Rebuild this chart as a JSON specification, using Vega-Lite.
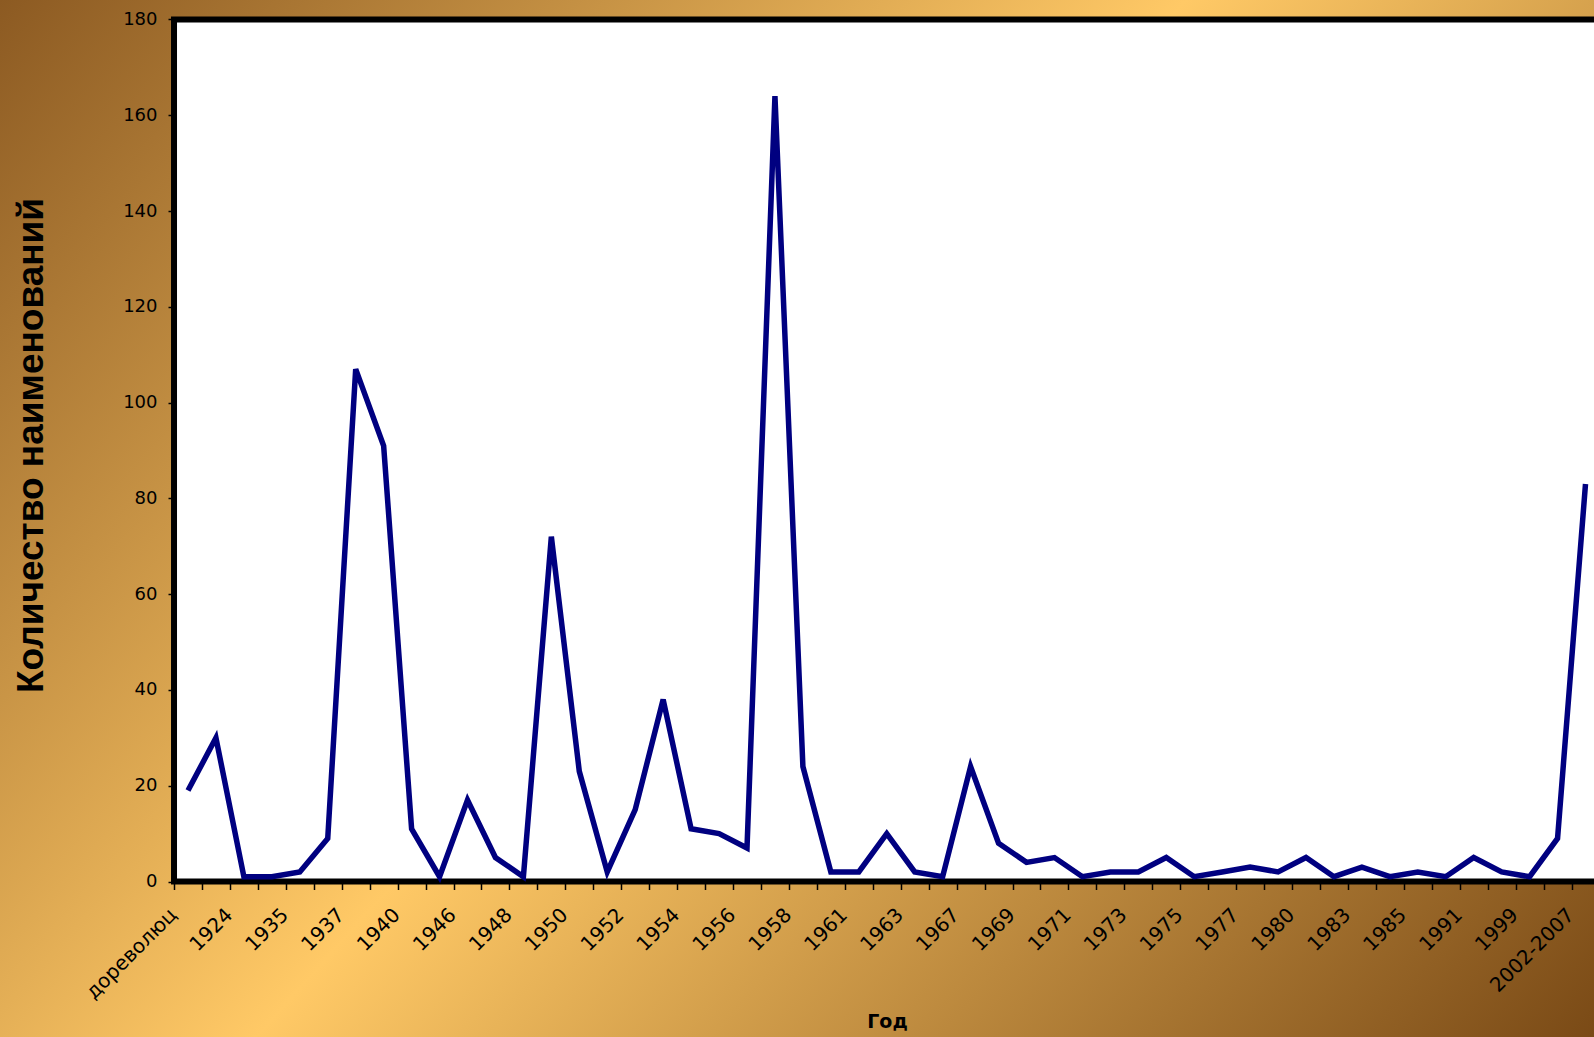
{
  "$schema": "https://vega.github.io/schema/vega-lite/v6.json",
  "width": 1594,
  "height": 1037,
  "autosize": {"type": "none"},
  "padding": 0,
  "background": "#D9A64E",
  "config": {"view": {"stroke": null}},
  "datasets": {
    "one": [{"k": 1}],
    "d": [
      {"i": 0, "year": "дореволюц", "n": 19},
      {"i": 1, "year": "1920", "n": 30},
      {"i": 2, "year": "1924", "n": 1},
      {"i": 3, "year": "1930", "n": 1},
      {"i": 4, "year": "1935", "n": 2},
      {"i": 5, "year": "1936", "n": 9},
      {"i": 6, "year": "1937", "n": 107},
      {"i": 7, "year": "1938", "n": 91},
      {"i": 8, "year": "1940", "n": 11},
      {"i": 9, "year": "1945", "n": 1},
      {"i": 10, "year": "1946", "n": 17},
      {"i": 11, "year": "1947", "n": 5},
      {"i": 12, "year": "1948", "n": 1},
      {"i": 13, "year": "1949", "n": 72},
      {"i": 14, "year": "1950", "n": 23},
      {"i": 15, "year": "1951", "n": 2},
      {"i": 16, "year": "1952", "n": 15},
      {"i": 17, "year": "1953", "n": 38},
      {"i": 18, "year": "1954", "n": 11},
      {"i": 19, "year": "1955", "n": 10},
      {"i": 20, "year": "1956", "n": 7},
      {"i": 21, "year": "1957", "n": 164},
      {"i": 22, "year": "1958", "n": 24},
      {"i": 23, "year": "1959", "n": 2},
      {"i": 24, "year": "1961", "n": 2},
      {"i": 25, "year": "1962", "n": 10},
      {"i": 26, "year": "1963", "n": 2},
      {"i": 27, "year": "1965", "n": 1},
      {"i": 28, "year": "1967", "n": 24},
      {"i": 29, "year": "1968", "n": 8},
      {"i": 30, "year": "1969", "n": 4},
      {"i": 31, "year": "1970", "n": 5},
      {"i": 32, "year": "1971", "n": 1},
      {"i": 33, "year": "1972", "n": 2},
      {"i": 34, "year": "1973", "n": 2},
      {"i": 35, "year": "1974", "n": 5},
      {"i": 36, "year": "1975", "n": 1},
      {"i": 37, "year": "1976", "n": 2},
      {"i": 38, "year": "1977", "n": 3},
      {"i": 39, "year": "1979", "n": 2},
      {"i": 40, "year": "1980", "n": 5},
      {"i": 41, "year": "1982", "n": 1},
      {"i": 42, "year": "1983", "n": 3},
      {"i": 43, "year": "1984", "n": 1},
      {"i": 44, "year": "1985", "n": 2},
      {"i": 45, "year": "1990", "n": 1},
      {"i": 46, "year": "1991", "n": 5},
      {"i": 47, "year": "1995", "n": 2},
      {"i": 48, "year": "1999", "n": 1},
      {"i": 49, "year": "2001", "n": 9},
      {"i": 50, "year": "2002-2007", "n": 83}
    ]
  },
  "resolve": {"axis": {"x": "independent", "y": "independent"}},
  "layer": [
    {
      "data": {"name": "one"},
      "mark": {
        "type": "rect",
        "strokeWidth": 0,
        "fill": {
          "gradient": "linear",
          "x1": 0, "y1": 0, "x2": 1.181, "y2": 0.689,
          "stops": [
            {"offset": 0, "color": "#8C5A22"},
            {"offset": 0.47, "color": "#FFC966"},
            {"offset": 1, "color": "#7A4A16"}
          ]
        }
      },
      "encoding": {}
    },
    {
      "data": {"name": "one"},
      "mark": {"type": "rect", "fill": "white", "stroke": "black", "strokeWidth": 6, "strokeJoin": "miter"},
      "encoding": {
        "x": {"datum": -0.5, "type": "quantitative", "scale": {"domain": [-6.726, 50.304], "nice": false, "zero": false}, "axis": null},
        "x2": {"datum": 52},
        "y": {"datum": 0, "type": "quantitative", "scale": {"domain": [-32.47, 184.07], "nice": false, "zero": false}, "axis": null},
        "y2": {"datum": 180}
      }
    },
    {
      "data": {"name": "d"},
      "mark": {"type": "line", "color": "#000080", "strokeWidth": 5.5, "strokeJoin": "miter"},
      "encoding": {
        "x": {
          "field": "i", "type": "quantitative",
          "scale": {"domain": [-6.726, 50.304], "nice": false, "zero": false},
          "axis": {
            "orient": "bottom",
            "zindex": 2,
            "values": [0, 2, 4, 6, 8, 10, 12, 14, 16, 18, 20, 22, 24, 26, 28, 30, 32, 34, 36, 38, 40, 42, 44, 46, 48, 50],
            "labelExpr": "['дореволюц','1924','1935','1937','1940','1946','1948','1950','1952','1954','1956','1958','1961','1963','1967','1969','1971','1973','1975','1977','1980','1983','1985','1991','1999','2002-2007'][datum.value / 2]",
            "labelAngle": -45,
            "labelAlign": "right",
            "labelBaseline": "middle",
            "labelFont": "DejaVu Sans",
            "labelFontSize": 20,
            "labelColor": "black",
            "labelPadding": 30,
            "labelOffset": -15,
            "ticks": false,
            "tickSize": 0,
            "domain": false,
            "offset": -155.5,
            "labelOverlap": false,
            "labelFlush": false,
            "labelBound": false,
            "title": "Год",
            "titleFont": "DejaVu Sans",
            "titleFontSize": 19,
            "titleFontWeight": "bold",
            "titleColor": "black",
            "titleX": 887,
            "titleY": 145.5,
            "titleAlign": "center",
            "titleBaseline": "alphabetic",
            "grid": false
          }
        },
        "y": {
          "field": "n", "type": "quantitative",
          "scale": {"domain": [-32.47, 184.07], "nice": false, "zero": false},
          "axis": {
            "orient": "left",
            "zindex": 2,
            "values": [0, 20, 40, 60, 80, 100, 120, 140, 160, 180],
            "domain": false,
            "ticks": true,
            "tickSize": 6,
            "tickWidth": 1.5,
            "tickColor": "black",
            "labelFont": "DejaVu Sans",
            "labelFontSize": 18,
            "labelColor": "black",
            "labelPadding": 11,
            "labelFlush": false,
            "labelBound": false,
            "labelOverlap": false,
            "offset": -174,
            "title": "Количество наименований",
            "titleFont": "Liberation Sans",
            "titleFontSize": 37,
            "titleFontWeight": "bold",
            "titleColor": "black",
            "titleAngle": 270,
            "titleAlign": "center",
            "titleBaseline": "middle",
            "titleX": -143,
            "titleY": 445,
            "grid": false
          }
        }
      }
    },
    {
      "data": {"name": "d"},
      "mark": {"type": "point", "opacity": 0},
      "encoding": {
        "x": {
          "field": "i", "type": "quantitative",
          "scale": {"domain": [-6.726, 50.304], "nice": false, "zero": false},
          "axis": {
            "orient": "bottom",
            "zindex": 2,
            "values": [-0.5, 0.5, 1.5, 2.5, 3.5, 4.5, 5.5, 6.5, 7.5, 8.5, 9.5, 10.5, 11.5, 12.5, 13.5, 14.5, 15.5, 16.5, 17.5, 18.5, 19.5, 20.5, 21.5, 22.5, 23.5, 24.5, 25.5, 26.5, 27.5, 28.5, 29.5, 30.5, 31.5, 32.5, 33.5, 34.5, 35.5, 36.5, 37.5, 38.5, 39.5, 40.5, 41.5, 42.5, 43.5, 44.5, 45.5, 46.5, 47.5, 48.5, 49.5],
            "labels": false,
            "ticks": true,
            "tickSize": 8,
            "tickWidth": 1.5,
            "tickColor": "black",
            "domain": false,
            "offset": -155.5,
            "title": null,
            "grid": false
          }
        }
      }
    }
  ]
}
